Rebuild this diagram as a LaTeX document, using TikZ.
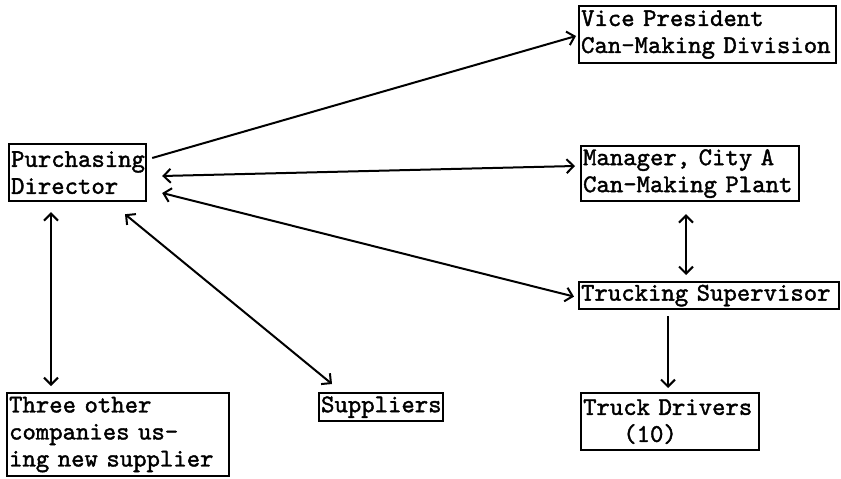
\documentclass[tikz,border=0pt]{standalone}
\usepackage{fontspec}
\newfontfamily\typew{lmmono10-regular.otf}[RawFeature={embolden=1.5}]
\usetikzlibrary{arrows.meta}
\tikzset{
  orgbox/.style={draw, line width=2.2pt, anchor=north west, align=left,
    inner xsep=2pt, inner ysep=0pt, font=\typew\fontsize{25.5}{27}\selectfont},
  link/.style={line width=2pt, {Straight Barb[length=7pt,width=14pt]}-{Straight Barb[length=7pt,width=14pt]}},
  onelink/.style={line width=2pt, -{Straight Barb[length=7pt,width=14pt]}}
}
\begin{document}
\begin{tikzpicture}[x=1pt,y=-1pt]
\useasboundingbox (0,0) rectangle (841,479);
\node[orgbox, minimum width=137pt, minimum height=57pt, text width=133pt] (pd) at (8,143) {Purchasing\\Director};
\node[orgbox, minimum width=257pt, minimum height=57pt, text width=253pt] (vp) at (578,5) {Vice President\\Can-Making Division};
\node[orgbox, minimum width=218pt, minimum height=55pt, text width=214pt] (mgr) at (580,145) {Manager, City A\\Can-Making Plant};
\node[orgbox, minimum width=260pt, minimum height=27pt, text width=256pt] (ts) at (578,281) {Trucking Supervisor};
\node[orgbox, minimum width=178pt, minimum height=57pt, text width=174pt] (td) at (580,392) {Truck Drivers\\\phantom{Tru}(10)};
\node[orgbox, minimum width=222pt, minimum height=83pt, text width=218pt] (three) at (6,392) {Three other\\companies us-\\ing new supplier};
\node[orgbox, minimum width=124pt, minimum height=28pt, text width=120pt] (sup) at (318,392) {Suppliers};

\draw[onelink] ([shift={(5,15)}]pd.north east) -- ([shift={(-2,31)}]vp.north west);
\draw[link] ([shift={(15,33)}]pd.north east) -- ([shift={(-5,21)}]mgr.north west);
\draw[link] ([shift={(15,50)}]pd.north east) -- ([shift={(-4,1)}]ts.west);
\draw[link] ([shift={(43,10)}]pd.south west) -- ([shift={(45,-6)}]three.north west);
\draw[link] ([shift={(117,12)}]pd.south west) -- ([shift={(14,-8)}]sup.north west);
\draw[link] ([shift={(106,12)}]mgr.south west) -- ([shift={(108,-6)}]ts.north west);
\draw[onelink] ([shift={(90,6)}]ts.south west) -- ([shift={(88,-4)}]td.north west);
\end{tikzpicture}
\end{document}
